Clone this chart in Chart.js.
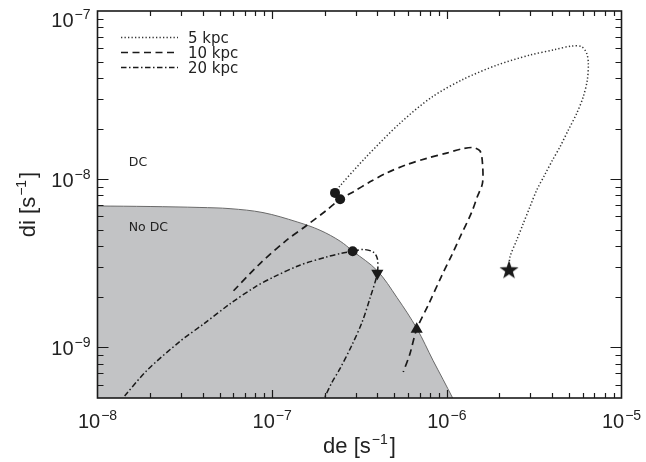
<!DOCTYPE html>
<html>
<head>
<meta charset="utf-8">
<script src="https://cdn.jsdelivr.net/npm/chart.js@4.4.1/dist/chart.umd.min.js"></script>
<style>
  html, body { margin: 0; padding: 0; background: #fff; }
</style>
</head>
<body>
<canvas id="chart" width="646" height="462"></canvas>
<script>
// orbits in the (de, di) plane
const seriesLabels = ['5 kpc', '10 kpc', '20 kpc'];

const de5 = [2.29e-7, 2.41e-7, 3.44e-7, 5.36e-7, 8.22e-7, 1.25e-6, 1.94e-6, 2.99e-6, 4.16e-6, 5.19e-6, 5.92e-6, 6.32e-6, 6.46e-6,
  6.37e-6, 6.04e-6, 5.54e-6, 4.96e-6, 4.45e-6, 4.03e-6, 3.65e-6, 3.27e-6, 2.99e-6, 2.74e-6, 2.51e-6, 2.30e-6, 2.27e-6];
const di5 = [8.29e-9, 8.96e-9, 1.35e-8, 2.14e-8, 3.08e-8, 3.94e-8, 4.77e-8, 5.47e-8, 5.90e-8, 6.19e-8, 6.13e-8, 5.60e-8, 4.88e-8,
  3.88e-8, 3.09e-8, 2.46e-8, 1.96e-8, 1.56e-8, 1.30e-8, 1.07e-8, 8.60e-9, 6.84e-9, 5.45e-9, 4.33e-9, 3.45e-9, 2.87e-9];

const de10 = [6.01e-8, 8.52e-8, 1.21e-7, 1.58e-7, 2.05e-7, 2.45e-7, 2.91e-7, 3.63e-7, 4.53e-7, 5.89e-7, 7.67e-7, 9.98e-7, 1.24e-6,
  1.42e-6, 1.55e-6, 1.60e-6, 1.60e-6, 1.49e-6, 1.39e-6, 1.18e-6, 1.08e-6, 9.26e-7, 7.90e-7, 6.72e-7, 6.15e-7, 5.63e-7];
const di10 = [2.17e-9, 3.15e-9, 4.34e-9, 5.32e-9, 6.54e-9, 7.60e-9, 8.40e-9, 9.64e-9, 1.09e-8, 1.22e-8, 1.33e-8, 1.43e-8, 1.52e-8,
  1.54e-8, 1.47e-8, 1.24e-8, 9.47e-9, 7.81e-9, 6.39e-9, 4.44e-9, 3.63e-9, 2.61e-9, 1.82e-9, 1.28e-9, 9.17e-10, 7.13e-10];

const de20 = [1.43e-8, 1.92e-8, 2.98e-8, 4.06e-8, 5.76e-8, 8.01e-8, 1.02e-7, 1.44e-7, 2.05e-7, 2.45e-7, 2.89e-7, 3.32e-7, 3.79e-7,
  4.00e-7, 4.00e-7, 3.63e-7, 3.27e-7, 2.86e-7, 2.45e-7, 2.20e-7, 1.99e-7];
const di20 = [5.14e-10, 7.30e-10, 1.09e-9, 1.38e-9, 1.82e-9, 2.29e-9, 2.62e-9, 3.08e-9, 3.45e-9, 3.61e-9, 3.73e-9, 3.82e-9, 3.69e-9,
  3.37e-9, 2.76e-9, 1.96e-9, 1.41e-9, 1.03e-9, 7.50e-10, 6.19e-10, 5.00e-10];

// edge of the shaded "No DC" region
const deEdge = [1.0e-8, 2.00e-8, 3.86e-8, 5.74e-8, 8.86e-8, 1.39e-7, 1.88e-7, 2.45e-7, 2.90e-7, 3.98e-7, 5.18e-7, 6.75e-7, 8.33e-7, 9.51e-7, 1.08e-6];
const diEdge = [6.93e-9, 6.88e-9, 6.79e-9, 6.68e-9, 6.33e-9, 5.57e-9, 4.97e-9, 4.28e-9, 3.73e-9, 2.87e-9, 1.98e-9, 1.29e-9, 8.37e-10, 6.45e-10, 5.0e-10];

// markers
const startDe = [2.29e-7, 2.45e-7, 2.89e-7];
const startDi = [8.29e-9, 7.60e-9, 3.73e-9];
const starDe = [2.27e-6], starDi = [2.87e-9];
const triUpDe = [6.72e-7], triUpDi = [1.28e-9];
const triDownDe = [4.00e-7], triDownDi = [2.76e-9];

// axis decades (labelled) and minor multipliers
const xDecades = [-8, -7, -6, -5];
const yDecades = [-9, -8, -7];
const minorSteps = [1, 2, 3, 4, 5, 6, 7, 8, 9];

const pts = (xs, ys) => xs.map((v, i) => ({ x: v, y: ys[i] }));

const INK = '#1a1a1a';
const SANS = '"Liberation Sans", Arial, sans-serif';
const DEJA = '"DejaVu Sans", sans-serif';

// filled five point star for the end marker
function makeStar(r) {
  const c = document.createElement('canvas');
  c.width = c.height = r * 2 + 2;
  const g = c.getContext('2d');
  g.fillStyle = INK;
  g.beginPath();
  for (let i = 0; i < 10; i++) {
    const rad = i % 2 === 0 ? r : r * 0.4;
    const a = -Math.PI / 2 + i * Math.PI / 5;
    g.lineTo(r + 1 + rad * Math.cos(a), r + 1 + rad * Math.sin(a));
  }
  g.closePath();
  g.fill();
  return c;
}

function drawParts(ctx, parts, x, y, align) {
  let total = 0;
  parts.forEach(p => { ctx.font = p.size + 'px ' + SANS; p.w = ctx.measureText(p.t).width + (p.gap || 0); total += p.w; });
  let cx = align === 'center' ? x - total / 2 : (align === 'right' ? x - total : x);
  ctx.textAlign = 'left';
  ctx.textBaseline = 'alphabetic';
  parts.forEach(p => {
    ctx.font = p.size + 'px ' + SANS;
    ctx.fillText(p.t, cx + (p.pre || 0), y - (p.rise || 0));
    cx += p.w;
  });
}

function powerParts(exp) {
  return [{ t: '10', size: 20 }, { t: '\u2212' + Math.abs(exp), size: 14, rise: 8, pre: 1, gap: 1 }];
}

const decor = {
  id: 'decor',
  afterDraw(chart) {
    const { ctx, chartArea: a, scales: { x, y } } = chart;
    ctx.save();
    ctx.strokeStyle = INK;
    ctx.fillStyle = INK;

    // frame
    ctx.lineWidth = 1.6;
    ctx.strokeRect(a.left, a.top, a.right - a.left, a.bottom - a.top);

    // tick marks, inward on all four sides
    ctx.lineWidth = 1.2;
    ctx.beginPath();
    [-9, ...xDecades].forEach(d => minorSteps.forEach(m => {
      const v = m * Math.pow(10, d);
      if (v <= x.min * 1.0001 || v >= x.max * 0.9999) return;
      const px = Math.round(x.getPixelForValue(v)) + 0.5;
      const len = m === 1 ? 8 : 5;
      ctx.moveTo(px, a.bottom); ctx.lineTo(px, a.bottom - len);
      ctx.moveTo(px, a.top); ctx.lineTo(px, a.top + len);
    }));
    [-10, ...yDecades].forEach(d => minorSteps.forEach(m => {
      const v = m * Math.pow(10, d);
      if (v <= y.min * 1.0001 || v >= y.max * 0.9999) return;
      const py = Math.round(y.getPixelForValue(v)) + 0.5;
      const len = m === 1 ? 11 : 6;
      ctx.moveTo(a.left, py); ctx.lineTo(a.left + len, py);
      ctx.moveTo(a.right, py); ctx.lineTo(a.right - len, py);
    }));
    ctx.stroke();

    // tick labels (the top one sits a little below the frame edge)
    ctx.fillStyle = '#222';
    xDecades.forEach(d => drawParts(ctx, powerParts(d), x.getPixelForValue(Math.pow(10, d)), a.bottom + 30, 'center'));
    yDecades.forEach(d => {
      const py = y.getPixelForValue(Math.pow(10, d));
      drawParts(ctx, powerParts(d), a.left - 7, Math.max(py, a.top + 8) + 8, 'right');
    });

    // axis titles
    drawParts(ctx, [{ t: 'de [s', size: 22 }, { t: '\u22121', size: 14, rise: 9, pre: 1, gap: 3 }, { t: ']', size: 22 }],
      (a.left + a.right) / 2, a.bottom + 55, 'center');
    ctx.save();
    ctx.translate(35, (a.top + a.bottom) / 2);
    ctx.rotate(-Math.PI / 2);
    drawParts(ctx, [{ t: 'di [s', size: 22 }, { t: '\u22121', size: 14, rise: 9, pre: 1, gap: 3 }, { t: ']', size: 22 }], 0, 0, 'center');
    ctx.restore();

    // region labels
    ctx.font = '12.5px ' + DEJA;
    ctx.textAlign = 'left';
    ctx.textBaseline = 'middle';
    ctx.fillText('DC', x.getPixelForValue(1.51e-8), y.getPixelForValue(1.25e-8));
    ctx.fillText('No DC', x.getPixelForValue(1.51e-8), y.getPixelForValue(5.11e-9));

    // legend
    ctx.font = '15px ' + DEJA;
    ctx.textBaseline = 'alphabetic';
    chart.data.datasets.filter(ds => seriesLabels.includes(ds.label)).forEach((ds, i) => {
      const ly = a.top + 26.5 + i * 15;
      ctx.save();
      ctx.lineWidth = ds.borderWidth;
      ctx.strokeStyle = ds.borderColor;
      ctx.setLineDash(ds.borderDash);
      ctx.beginPath();
      ctx.moveTo(121, ly);
      ctx.lineTo(178, ly);
      ctx.stroke();
      ctx.restore();
      ctx.fillText(ds.label, 188, ly + 5);
    });
    ctx.restore();
  }
};

const lineBase = { showLine: true, pointRadius: 0, pointHoverRadius: 0, tension: 0.3, fill: false, borderColor: INK };

new Chart(document.getElementById('chart'), {
  type: 'scatter',
  data: {
    datasets: [
      { label: 'start', data: pts(startDe, startDi), pointStyle: 'circle', pointRadius: 5, backgroundColor: INK, borderWidth: 0 },
      { label: 'end10', data: pts(triUpDe, triUpDi), pointStyle: 'triangle', pointRadius: 7, backgroundColor: INK, borderWidth: 0 },
      { label: 'end20', data: pts(triDownDe, triDownDi), pointStyle: 'triangle', rotation: 180, pointRadius: 7, backgroundColor: INK, borderWidth: 0 },
      { label: 'end5', data: pts(starDe, starDi), pointStyle: makeStar(10), pointRadius: 10 },
      { ...lineBase, label: seriesLabels[0], data: pts(de5, di5), borderWidth: 1.5, borderDash: [1.3, 2.2], borderColor: '#333' },
      { ...lineBase, label: seriesLabels[1], data: pts(de10, di10), borderWidth: 1.7, borderDash: [7, 4.5] },
      { ...lineBase, label: seriesLabels[2], data: pts(de20, di20), borderWidth: 1.5, borderDash: [5.5, 2.5, 1.5, 2.5] },
      { ...lineBase, label: 'No DC', data: pts(deEdge, diEdge), borderWidth: 1, borderColor: '#6a6a6a', tension: 0.35,
        fill: 'start', backgroundColor: '#c2c3c5' }
    ]
  },
  options: {
    responsive: false,
    animation: false,
    events: [],
    layout: { padding: { top: 11, right: 24.5, left: 0, bottom: 0 } },
    plugins: { legend: { display: false }, tooltip: { enabled: false } },
    scales: {
      x: {
        type: 'logarithmic', min: 1e-8, max: 1e-5,
        grid: { display: false }, border: { display: false }, ticks: { display: false },
        afterFit: s => { s.height = 64; }
      },
      y: {
        type: 'logarithmic', min: 5e-10, max: 1e-7,
        grid: { display: false }, border: { display: false }, ticks: { display: false },
        afterFit: s => { s.width = 97.5; }
      }
    }
  },
  plugins: [decor]
});
</script>
</body>
</html>
